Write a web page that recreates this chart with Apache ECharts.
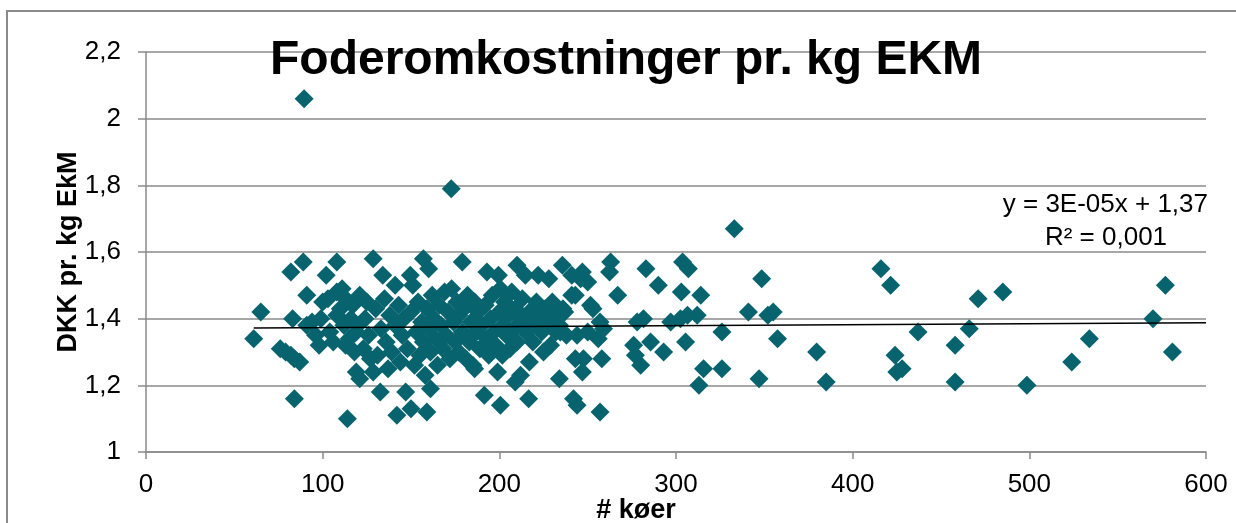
<!DOCTYPE html>
<html>
<head>
<meta charset="utf-8">
<script src="https://cdn.jsdelivr.net/npm/echarts@6/dist/echarts.min.js"></script>
<style>
html,body{margin:0;padding:0;background:#fff;overflow:hidden;}
#chart{width:1236px;height:523px;}
</style>
</head>
<body>
<div id="chart"></div>
<script>
// Herd size (# køer) per farm
var herdSize = [
61,65,76,79,82,82,83,84,84,87,89,89.5,91,91,94,96,98,99,100,102,103,104,106,108,108,108,110,111,112,113,113,114,115,116,117,118,119,119,120,
121,121,123,124,125,126,127,128.6,128.6,130,131,132.6,133,134,135,136,137,138,139,141,141,142,143,144,145,146,147,148,149.6,150,150,151,152,153,154,155,156,157,157,158,159,159,160,160,
161,161,162,163,164,165,166,167,168,169,170,171,172,172.8,173,174,175,176,177,177,179,179,180,181,182,183,184,185,186,186,187,188,189,190,191.5,192,193,193,194,195,196,197,198,199,199.5,200,
200.6,200.6,201.7,202,203,204,205,206,207,208,209,209,210,210,212,212,213,214.7,215,216.6,217,217,218,219,221,222,222,224,225,226,228,228,229,230,231,232,234,234,234.5,235.7,236,237,238,
241,241,242,243,243,244,244,246,247,247,247.6,250,250,251.6,253,256,257,257,258,259,262.4,263,267,276,277,278,280,281.6,283,285.6,290,293,297,302.5,303,303.7,305.4,306.5,307,312,313,314,315.6,326,326,333,
341,347,348.5,352,355,357.5,379.6,385,416,421.5,424,425,428,437,458,458,466,471,485,498.6,524,534,570,577,581
];
// Feed cost, DKK pr. kg EKM
var costPerKg = [
1.34,1.42,1.31,1.30,1.29,1.54,1.40,1.16,1.28,1.27,1.57,2.06,1.47,1.38,1.39,1.35,1.32,1.40,1.45,1.53,1.46,1.36,1.33,1.57,1.48,1.41,1.43,1.49,1.38,1.32,1.46,1.10,1.34,1.40,1.44,1.30,1.24,1.36,1.38,
1.47,1.22,1.31,1.40,1.45,1.35,1.28,1.58,1.24,1.43,1.29,1.18,1.37,1.53,1.46,1.33,1.25,1.41,1.30,1.50,1.38,1.11,1.44,1.27,1.35,1.40,1.18,1.31,1.53,1.13,1.42,1.50,1.26,1.36,1.45,1.29,1.39,1.58,1.33,1.23,1.12,1.43,1.55,1.37,
1.19,1.30,1.47,1.40,1.34,1.26,1.44,1.38,1.31,1.48,1.35,1.42,1.28,1.79,1.49,1.39,1.33,1.45,1.30,1.41,1.57,1.36,1.43,1.28,1.47,1.33,1.39,1.26,1.45,1.25,1.36,1.42,1.31,1.38,1.17,1.44,1.54,1.34,1.29,1.40,1.47,1.36,1.32,1.24,1.53,1.42,
1.14,1.49,1.29,1.38,1.45,1.35,1.41,1.31,1.48,1.37,1.21,1.43,1.56,1.33,1.23,1.40,1.46,1.53,1.36,1.16,1.27,1.42,1.38,1.33,1.45,1.53,1.40,1.36,1.30,1.43,1.52,1.39,1.32,1.45,1.41,1.36,1.22,1.38,1.36,1.56,1.43,1.42,1.35,
1.47,1.53,1.16,1.28,1.47,1.14,1.35,1.52,1.54,1.24,1.28,1.51,1.36,1.44,1.43,1.34,1.39,1.12,1.28,1.37,1.54,1.57,1.47,1.32,1.29,1.39,1.26,1.40,1.55,1.33,1.50,1.30,1.39,1.40,1.48,1.57,1.33,1.41,1.55,1.41,1.20,1.47,1.25,1.36,1.25,1.67,
1.42,1.22,1.52,1.41,1.42,1.34,1.30,1.21,1.55,1.50,1.29,1.24,1.25,1.36,1.32,1.21,1.37,1.46,1.48,1.20,1.27,1.34,1.40,1.50,1.30
];
// Linear trendline endpoints (y = 3E-05x + 1,37)
var trendX = [61, 600];
var trendY = [1.3718, 1.388];
var titleText = 'Foderomkostninger pr. kg EKM';
var eqText = 'y = 3E-05x + 1,37';
var r2Text = 'R² = 0,001';

var points = herdSize.map(function (x, i) { return [x, costPerKg[i]]; });
var trend = trendX.map(function (x, i) { return [x, trendY[i]]; });

var FONT = "'Liberation Sans', Arial, sans-serif";
var GRAY = '#8a8a8a';
var chart = echarts.init(document.getElementById('chart'), null, {renderer: 'canvas'});
chart.setOption({
  animation: false,
  backgroundColor: '#ffffff',
  title: {
    text: titleText,
    left: 270, top: 37, padding: 0,
    textStyle: {fontFamily: FONT, fontSize: 48, fontWeight: 'bold', color: '#000', lineHeight: 48}
  },
  grid: {left: 146, right: 30, top: 52, bottom: 71, containLabel: false, outerBoundsMode: 'none'},
  xAxis: {
    type: 'value', min: 0, max: 600, interval: 100,
    name: '# køer', nameLocation: 'middle', nameGap: 45, nameMoveOverlap: false,
    nameTextStyle: {fontFamily: FONT, fontSize: 27, fontWeight: 'bold', color: '#000', padding: [0, 80, 0, 0]},
    axisLine: {show: true, lineStyle: {color: GRAY, width: 1.5}},
    axisTick: {show: true, inside: false, length: 7, lineStyle: {color: GRAY, width: 1.5}},
    axisLabel: {fontFamily: FONT, fontSize: 26, color: '#000', margin: 20},
    splitLine: {show: false}
  },
  yAxis: {
    type: 'value', min: 1, max: 2.2, interval: 0.2,
    name: 'DKK pr. kg EkM', nameLocation: 'middle', nameGap: 64, nameRotate: 90, nameMoveOverlap: false,
    nameTextStyle: {fontFamily: FONT, fontSize: 27, fontWeight: 'bold', color: '#000'},
    axisLine: {show: true, lineStyle: {color: GRAY, width: 1.5}},
    axisTick: {show: true, inside: false, length: 8, lineStyle: {color: GRAY, width: 1.5}},
    axisLabel: {
      fontFamily: FONT, fontSize: 26, color: '#000', margin: 25,
      formatter: function (v) { return String(Math.round(v * 10) / 10).replace('.', ','); }
    },
    splitLine: {show: true, lineStyle: {color: GRAY, width: 1.5}}
  },
  graphic: [
    {type: 'rect', z: 100, silent: true, shape: {x: 7, y: 11, width: 1400, height: 700},
     style: {fill: 'none', stroke: GRAY, lineWidth: 2}},
    {type: 'text', z: 100, style: {text: eqText, x: 1208, y: 205, textAlign: 'right', textVerticalAlign: 'middle',
      font: '26px ' + FONT, fill: '#000'}},
    {type: 'text', z: 100, style: {text: r2Text, x: 1106, y: 238, textAlign: 'center', textVerticalAlign: 'middle',
      font: '26px ' + FONT, fill: '#000'}}
  ],
  series: [
    {type: 'scatter', data: points, symbol: 'diamond', symbolSize: 19,
     itemStyle: {color: '#07646f', opacity: 1}, z: 2},
    {type: 'line', data: trend, symbol: 'none', z: 3,
     lineStyle: {color: '#000', width: 1.5}}
  ]
});
</script>
</body>
</html>
